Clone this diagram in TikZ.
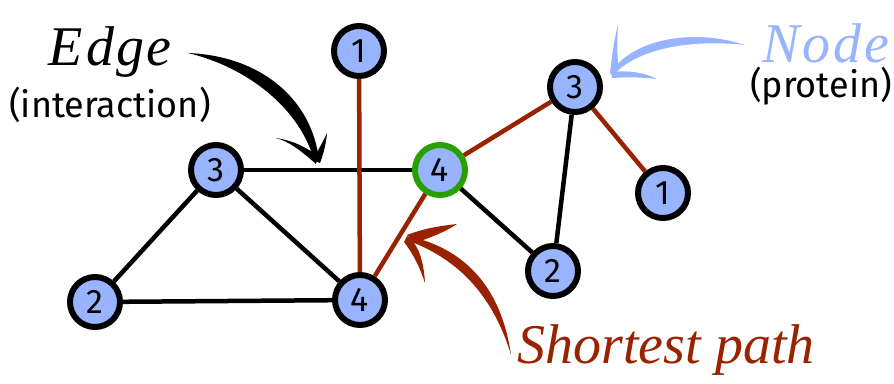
\documentclass[tikz,border=0pt]{standalone}
\usepackage{fontspec}
\setmainfont{Fira Sans}
\newfontfamily\handfont{Liberation Serif}
\definecolor{nodeblue}{RGB}{153,180,255}
\definecolor{pathred}{RGB}{153,34,0}
\definecolor{hubgreen}{RGB}{40,160,0}
\begin{document}
\begin{tikzpicture}[x=1pt,y=-1pt,
  prot/.style={circle, draw=black, line width=6pt, fill=nodeblue,
    minimum size=50pt, inner sep=0pt, font=\fontsize{34}{34}\selectfont},
  link/.style={line width=4.5pt, black},
  spath/.style={line width=4.5pt, pathred},
  caption/.style={anchor=base, inner sep=0pt, font=\fontsize{36}{38}\selectfont},
  hand/.style={anchor=base, inner sep=0pt, font=\handfont\itshape\fontsize{56}{56}\selectfont}]
\useasboundingbox (0,0) rectangle (894,383);

% proteins (placed first so that the links can refer to them)
\node[prot] (n1) at (359,51) {1};
\node[prot] (l3) at (216,170) {3};
\node[prot] (l2) at (95,302) {2};
\node[prot] (b4) at (360,300) {4};
\node[prot, draw=hubgreen] (g4) at (440,170) {4};
\node[prot] (r3) at (575,87) {3};
\node[prot] (r1) at (663,193) {1};
\node[prot] (r2) at (553,271) {2};

% interactions
\draw[link] (l3) -- (g4);
\draw[link] (l3) -- (l2);
\draw[link] (l3) -- (b4);
\draw[link] (l2) -- (b4);
\draw[link] (g4) -- (r2);
\draw[link] (r3) -- (r2);
\draw[spath] (n1) -- (b4);
\draw[spath] (b4) -- (g4);
\draw[spath] (g4) -- (r3);
\draw[spath] (r3) -- (r1);

% labels
\node[hand, black] (edgelbl) at (110,65) {E\kern3pt d\kern2pt g\kern2pt e};
\node[caption] (edgecap) at (110,117) {(interaction)};
\node[hand, nodeblue] (nodelbl) at (826,62) {N\kern3pt o\kern3pt d\kern3pt e};
\node[caption] (nodecap) at (821,97) {(protein)};
\node[hand, pathred] (pathlbl) at (666,363) {Shortest path};

% brush arrow: edge
\fill[black] (188,53) .. controls (262,56) and (312,100) .. (319,160)
  -- (314,160) .. controls (300,110) and (250,68) .. (188,53) -- cycle;
\fill[black] (316,164) .. controls (300,150) and (290,142) .. (276,138)
  .. controls (295,141) and (307,148) .. (318,156) -- cycle;
\fill[black] (313,160) .. controls (318,150) and (323,142) .. (327,133)
  .. controls (326,145) and (323,155) .. (320,163) -- cycle;

% brush arrow: node
\fill[nodeblue] (745,45) .. controls (700,30) and (640,35) .. (612,70)
  -- (616,72) .. controls (645,45) and (700,40) .. (745,45) -- cycle;
\fill[nodeblue] (610,74) .. controls (612,55) and (614,40) .. (618,25)
  .. controls (617,45) and (617,58) .. (619,70) -- cycle;
\fill[nodeblue] (611,72) .. controls (630,70) and (645,73) .. (657,79)
  .. controls (640,77) and (625,77) .. (612,78) -- cycle;

% brush arrow: shortest path
\fill[pathred] (412,237) .. controls (474,252) and (503,298) .. (511,355)
  .. controls (496,305) and (466,262) .. (409,241) -- cycle;
\fill[pathred] (407,235) .. controls (425,228) and (440,226) .. (457,224)
  .. controls (445,232) and (430,238) .. (414,243) -- cycle;
\fill[pathred] (407,236) .. controls (420,245) and (424,265) .. (425,283)
  .. controls (420,268) and (414,255) .. (404,242) -- cycle;
\end{tikzpicture}
\end{document}
